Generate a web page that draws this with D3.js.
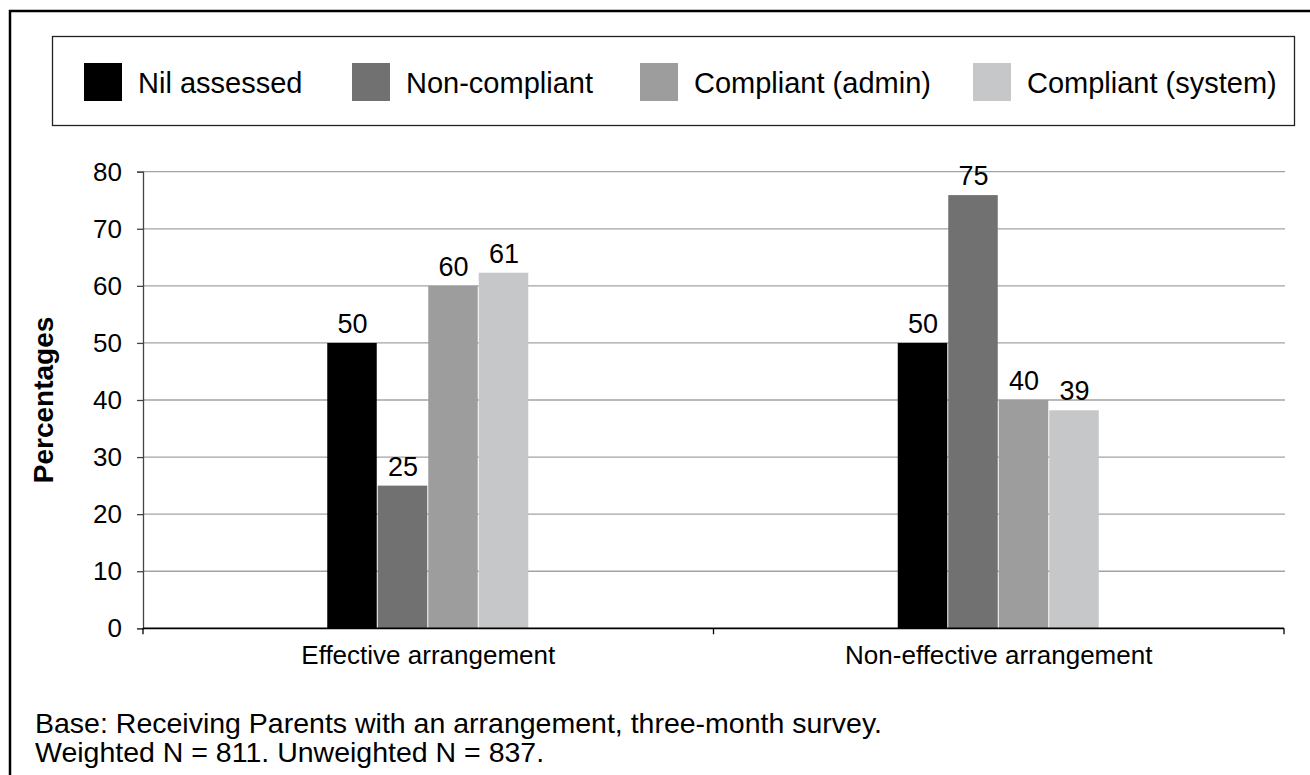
<!DOCTYPE html>
<html>
<head>
<meta charset="utf-8">
<script src="https://cdnjs.cloudflare.com/ajax/libs/d3/7.8.5/d3.min.js"></script>
<style>
  body { margin: 0; background: #fff; }
  text { font-family: Arial, "Liberation Sans", sans-serif; fill: #000; }
</style>
</head>
<body>
<div class="chart"></div>
<script>
// data
const categories = ["Effective arrangement", "Non-effective arrangement"];
const series = ["Nil assessed", "Non-compliant", "Compliant (admin)", "Compliant (system)"];
const effectiveValues = [50, 25, 60, 62.3];
const nonEffectiveValues = [50, 75.9, 40, 38.2];
const effectiveLabels = ["50", "25", "60", "61"];
const nonEffectiveLabels = ["50", "75", "40", "39"];
const yTicks = [0, 10, 20, 30, 40, 50, 60, 70, 80];
const greys = ["#000000", "#717171", "#9d9d9e", "#c6c7c8"];
const notes = ["Base: Receiving Parents with an arrangement, three-month survey.",
               "Weighted N = 811. Unweighted N = 837."];

makeSVG()

function makeSVG() {
    const svgwidth = 1310;
    const svgheight = 775;

    const plot = {left: 143, right: 1284, top: 171.7, bottom: 628.3};

    const svg = d3.select(".chart").append("svg")
        .attr("width", svgwidth)
        .attr("height", svgheight)

    // outer frame (right and bottom edges run off the picture)
    svg.append("rect")
        .attr("x", 10).attr("y", 11)
        .attr("width", 1320).attr("height", 790)
        .attr("fill", "none")
        .attr("stroke", "#000")
        .attr("stroke-width", 2.5)

    // legend box
    svg.append("rect")
        .attr("x", 52.5).attr("y", 36.5)
        .attr("width", 1242).attr("height", 89)
        .attr("fill", "none")
        .attr("stroke", "#222")
        .attr("stroke-width", 1.3)

    const legendX = [84, 352, 640, 973];
    const legend = svg.append("g")
        .selectAll("g")
        .data(series)
        .enter()
        .append("g")
        .attr("transform", (d, i) => `translate(${legendX[i]}, 63)`)
    legend.append("rect")
        .attr("width", 38).attr("height", 38)
        .attr("fill", (d, i) => greys[i])
    legend.append("text")
        .attr("x", 54).attr("y", 30)
        .attr("font-size", 29)
        .text(d => d)

    const xScale = d3.scaleBand()
        .domain(categories)
        .range([plot.left, plot.right])
    const groupWidth = 202;
    const x1 = d3.scaleBand()
        .domain(series)
        .range([(xScale.bandwidth() - groupWidth) / 2, (xScale.bandwidth() + groupWidth) / 2])
    const yScale = d3.scaleLinear()
        .domain([0, 80])
        .range([plot.bottom, plot.top])
    const colorScale = d3.scaleOrdinal().domain(series).range(greys)

    // gridlines
    svg.append("g")
        .selectAll("line")
        .data(yTicks.filter(d => d > 0))
        .enter()
        .append("line")
        .attr("x1", plot.left).attr("x2", plot.right + 1)
        .attr("y1", d => yScale(d)).attr("y2", d => yScale(d))
        .attr("stroke", "#a3a3a3")
        .attr("stroke-width", 1.3)

    // y axis
    const yAxis = d3.axisLeft(yScale)
        .tickValues(yTicks)
        .tickSize(6)
        .tickPadding(15)
    const yg = svg.append("g")
        .attr("class", "axis y-axis")
        .attr("transform", `translate(${plot.left}, 0)`)
        .call(yAxis)
    yg.select(".domain").attr("stroke", "#444").attr("stroke-width", 1.3)
    yg.selectAll(".tick line").attr("stroke", "#444").attr("stroke-width", 1.3)
    yg.selectAll(".tick text")
        .attr("font-size", 26)
        .attr("font-family", "Arial, 'Liberation Sans', sans-serif")
        .attr("fill", "#000")

    // bars
    const rows = [
        {cat: categories[0], values: effectiveValues, labels: effectiveLabels},
        {cat: categories[1], values: nonEffectiveValues, labels: nonEffectiveLabels}
    ];
    const groups = svg.append("g")
        .selectAll("g")
        .data(rows)
        .enter()
        .append("g")
        .attr("transform", d => `translate(${xScale(d.cat)}, 0)`)

    groups.selectAll("rect")
        .data(d => d.values.map((v, i) => ({key: series[i], value: v})))
        .enter()
        .append("rect")
        .attr("x", d => x1(d.key))
        .attr("width", x1.bandwidth() - 1)
        .attr("y", d => yScale(d.value))
        .attr("height", d => yScale(0) - yScale(d.value))
        .attr("fill", d => colorScale(d.key))

    groups.selectAll("text")
        .data(d => d.values.map((v, i) => ({key: series[i], value: v, label: d.labels[i]})))
        .enter()
        .append("text")
        .attr("x", d => x1(d.key) + x1.bandwidth() / 2)
        .attr("y", d => yScale(d.value) - 10)
        .attr("text-anchor", "middle")
        .attr("font-size", 27)
        .text(d => d.label)

    // x axis
    svg.append("line")
        .attr("x1", plot.left).attr("x2", plot.right)
        .attr("y1", plot.bottom).attr("y2", plot.bottom)
        .attr("stroke", "#000")
        .attr("stroke-width", 1.8)
    const edges = [plot.left].concat(categories.map(c => xScale(c) + xScale.bandwidth()))
    svg.append("g")
        .selectAll("line")
        .data(edges)
        .enter()
        .append("line")
        .attr("x1", d => d).attr("x2", d => d)
        .attr("y1", plot.bottom).attr("y2", plot.bottom + 6)
        .attr("stroke", "#000")
        .attr("stroke-width", 1.3)
    svg.append("g")
        .selectAll("text")
        .data(categories)
        .enter()
        .append("text")
        .attr("x", d => xScale(d) + xScale.bandwidth() / 2)
        .attr("y", 664)
        .attr("text-anchor", "middle")
        .attr("font-size", 26)
        .text(d => d)

    // y label
    svg.append("text")
        .attr("transform", `translate(53, ${(plot.top + plot.bottom) / 2}) rotate(-90)`)
        .attr("text-anchor", "middle")
        .attr("font-size", 28)
        .attr("font-weight", "bold")
        .text("Percentages")

    // notes
    svg.append("g")
        .selectAll("text")
        .data(notes)
        .enter()
        .append("text")
        .attr("x", 35)
        .attr("y", (d, i) => 733 + i * 29)
        .attr("font-size", 28.5)
        .text(d => d)
}
</script>
</body>
</html>
